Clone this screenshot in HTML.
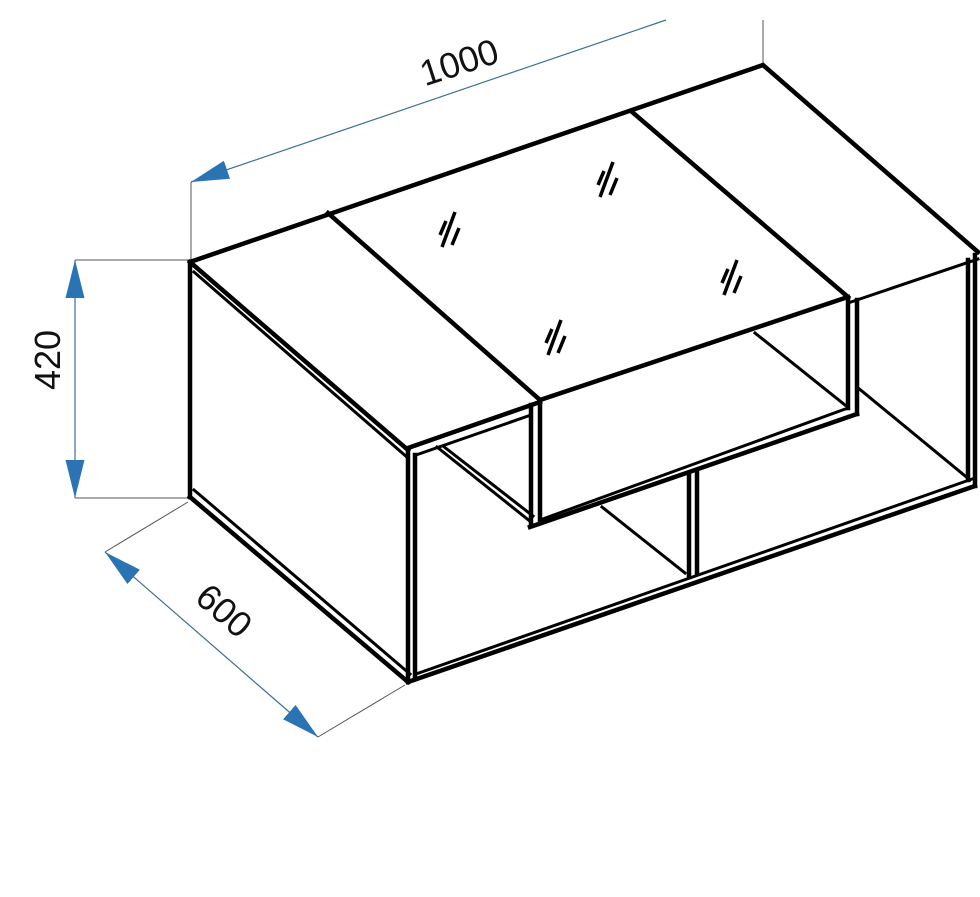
<!DOCTYPE html>
<html><head><style>body{margin:0;background:#fff}svg{display:block}</style></head><body>
<svg width="980" height="897" viewBox="0 0 980 897" xmlns="http://www.w3.org/2000/svg">
<defs>
<marker id="a" viewBox="0 0 20 10" refX="20" refY="5" markerWidth="38" markerHeight="19" markerUnits="userSpaceOnUse" orient="auto-start-reverse"><path d="M20,5 L0,0 L0,10 Z" fill="#2a74b3"/></marker>
<g id="m" stroke="#000" stroke-width="3.5" stroke-linecap="butt"><line x1="-9" y1="5" x2="-3" y2="-9"/><line x1="-7" y1="17" x2="6" y2="-18"/><line x1="3" y1="15" x2="10" y2="-2"/></g>
</defs>
<g stroke="#555" stroke-width="1" fill="none">
<line x1="191" y1="182" x2="191" y2="262"/>
<line x1="763" y1="20" x2="763" y2="64"/>
<line x1="75" y1="260" x2="190" y2="260"/>
<line x1="75" y1="498" x2="188" y2="498"/>
<line x1="188" y1="502" x2="105" y2="552"/>
<line x1="318" y1="737" x2="405" y2="685"/>
</g>
<g stroke="#3d6e96" stroke-width="1.2" fill="none">
<line x1="666" y1="20" x2="191" y2="182" marker-end="url(#a)"/>
<line x1="75" y1="260" x2="75" y2="498" marker-start="url(#a)" marker-end="url(#a)"/>
<line x1="105" y1="552" x2="318" y2="737" marker-start="url(#a)" marker-end="url(#a)"/>
</g>
<g font-family="Liberation Sans, sans-serif" font-size="36" fill="#111" text-anchor="middle">
<text transform="translate(463,74) rotate(-18)">1000</text>
<text transform="translate(60,360) rotate(-90)">420</text>
<text transform="translate(216,620) rotate(41)">600</text>
</g>
<g stroke="#000" fill="none" stroke-linejoin="miter" stroke-linecap="square">
<g stroke-width="4.5">
<polyline points="190,262 763,65 978,252"/>
<line x1="328" y1="213" x2="540" y2="400"/>
<line x1="631" y1="111" x2="848" y2="297"/>
<line x1="190" y1="262" x2="408" y2="450"/>
<line x1="190" y1="262" x2="190" y2="497"/>
<line x1="190" y1="497" x2="408" y2="682"/>
<line x1="408" y1="450" x2="408" y2="682"/>
<line x1="408" y1="682" x2="975" y2="486"/>
<line x1="540" y1="400" x2="848" y2="297"/>
<line x1="408" y1="448" x2="540" y2="402"/>
<line x1="530" y1="527" x2="857" y2="414"/>
<line x1="531" y1="405" x2="531" y2="525"/>
<line x1="540" y1="405" x2="540" y2="520"/>
<line x1="848" y1="300" x2="848" y2="408"/>
<line x1="857" y1="300" x2="857" y2="414"/>
<line x1="975" y1="255" x2="975" y2="486"/>
<line x1="689" y1="475" x2="689" y2="577"/>
<line x1="697" y1="473" x2="697" y2="573"/>
<line x1="415" y1="455" x2="415" y2="678"/>
<line x1="968" y1="260" x2="968" y2="480"/>
</g>
<g stroke-width="3">
<line x1="194" y1="272" x2="408" y2="458"/>
<line x1="194" y1="490" x2="410" y2="674"/>
<line x1="416" y1="674" x2="975" y2="478"/>
<line x1="416" y1="455" x2="531" y2="415"/>
<line x1="848" y1="303" x2="978" y2="259"/>
<line x1="437" y1="447" x2="531" y2="522"/>
<line x1="443" y1="446" x2="533" y2="516"/>
<line x1="540" y1="520" x2="848" y2="408"/>
<line x1="602" y1="507" x2="685" y2="573"/>
<line x1="755" y1="333" x2="845" y2="405"/>
<line x1="857" y1="387" x2="970" y2="480"/>
</g>
</g>
<use href="#m" x="449" y="230"/>
<use href="#m" x="607" y="180"/>
<use href="#m" x="731" y="278"/>
<use href="#m" x="555" y="338"/>
</svg>
</body></html>
